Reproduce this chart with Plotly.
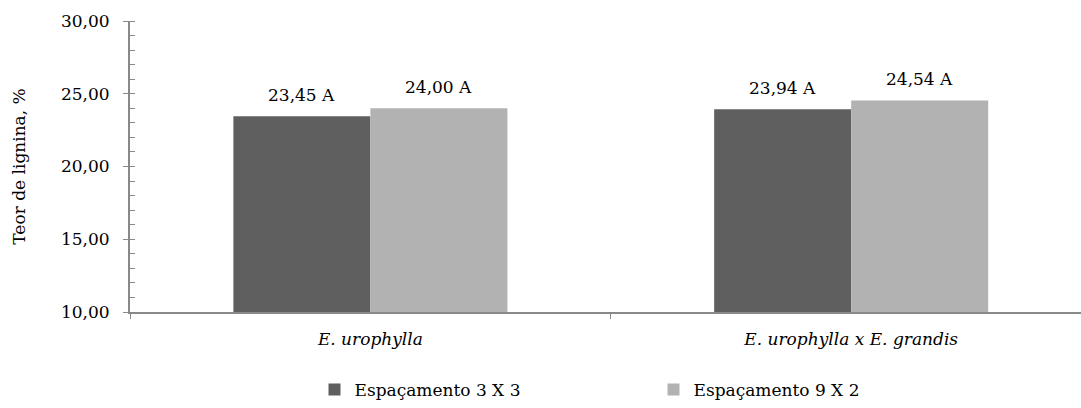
import plotly.graph_objects as go

categories = ["E. urophylla", "E. urophylla x E. grandis"]
series_names = ["Espaçamento 3 X 3", "Espaçamento 9 X 2"]
values_3x3 = [23.45, 23.94]
values_9x2 = [24.00, 24.54]
letters_3x3 = ["A", "A"]
letters_9x2 = ["A", "A"]
colors = ["#5f5f5f", "#b2b2b2"]
y_ticks = [10, 15, 20, 25, 30]

FONT = "DejaVu Serif"
FS = 17

W, H = 1081, 408
ML, MR, MT, MB = 130, 0, 21, 95
XR = [-0.5, 1.478]
BARGAP = 0.43


def lab(vals, lets):
    return [f"{v:.2f}".replace(".", ",") + " " + l for v, l in zip(vals, lets)]


fig = go.Figure()
for name, vals, col in [
    (series_names[0], values_3x3, colors[0]),
    (series_names[1], values_9x2, colors[1]),
]:
    fig.add_trace(go.Bar(
        x=categories, y=vals, name=name,
        marker=dict(color=col, line=dict(width=0)),
    ))

px_per_cat = (W - ML - MR) / (XR[1] - XR[0])
half_bar = px_per_cat * (1 - BARGAP) / 4
for sign, vals, lets in [(-1, values_3x3, letters_3x3), (1, values_9x2, letters_9x2)]:
    for c, v, t in zip(categories, vals, lab(vals, lets)):
        fig.add_annotation(
            x=c, y=v, text=t, showarrow=False,
            xshift=sign * half_bar, yshift=9, yanchor="bottom",
            font=dict(family=FONT, size=FS, color="#000000"),
        )

fig.update_layout(
    width=W, height=H,
    margin=dict(l=ML, r=MR, t=MT, b=MB),
    paper_bgcolor="white", plot_bgcolor="white",
    barmode="group", bargap=BARGAP, bargroupgap=0,
    separators=",.",
    font=dict(family=FONT, size=FS, color="#000000"),
    showlegend=True,
    legend=dict(
        orientation="h", x=0.194, xanchor="left", y=-0.268, yanchor="middle",
        font=dict(family=FONT, size=FS, color="#000000"),
        entrywidth=294, entrywidthmode="pixels",
        itemwidth=30, tracegroupgap=0,
    ),
)

fig.update_xaxes(
    type="category",
    tickmode="array", tickvals=categories,
    ticktext=[f"<i>{c}</i>" for c in categories],
    range=XR,
    showline=True, linecolor="#898989", linewidth=2,
    ticks="outside", tickson="boundaries", ticklen=5, tickcolor="#898989", tickwidth=1,
    showgrid=False, zeroline=False,
    ticklabelstandoff=11,
    tickfont=dict(family=FONT, size=FS, color="#000000"),
)

fig.update_yaxes(
    range=[10, 30],
    tickmode="array", tickvals=y_ticks, tickformat=".2f",
    showline=True, linecolor="#898989", linewidth=2,
    ticks="outside", ticklen=5, tickcolor="#898989", tickwidth=1,
    minor=dict(ticks="inside", dtick=1, ticklen=5, tickcolor="#898989", tickwidth=1, showgrid=False),
    showgrid=False, zeroline=False,
    ticklabelstandoff=10,
    tickfont=dict(family=FONT, size=FS, color="#000000"),
    title=dict(text="Teor de lignina, %", font=dict(family=FONT, size=FS, color="#000000"), standoff=31),
)

fig.write_html("out.html")
